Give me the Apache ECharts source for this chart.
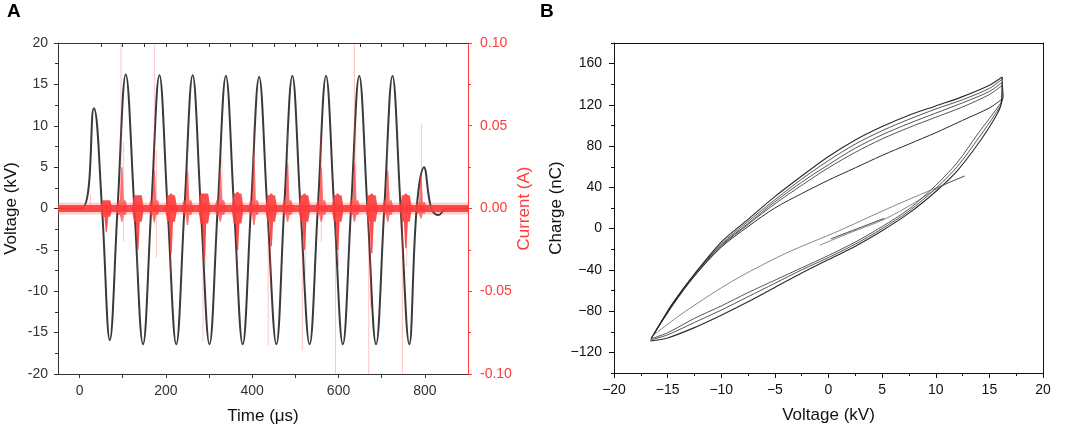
<!DOCTYPE html>
<html>
<head>
<meta charset="utf-8">
<script src="https://cdn.jsdelivr.net/npm/echarts@6/dist/echarts.min.js"></script>
<style>
html, body { margin: 0; padding: 0; background: #fff; }
#chart { width: 1065px; height: 430px; }
</style>
</head>
<body>
<div id="chart"></div>
<script>
// ---- panel A : applied voltage, key points (time us, kV)
var voltageTime = [-50, 5, 33, 52, 70, 88, 107, 127, 147, 166, 185, 204, 224, 243, 262, 281, 301, 320, 339, 358,
    378, 397, 416, 435, 456, 474, 493, 512, 533, 552, 571, 590, 610, 629, 648, 667, 687, 706, 725, 744,
    764, 781, 798, 815, 832, 850, 900];
var voltageKv = [0, 0, 12.1, 0, -15.9, 0, 16.2, 0, -16.4, 0, 16.1, 0, -16.4, 0, 16.1, 0, -16.4, 0, 16.0, 0,
    -16.4, 0, 15.9, 0, -16.4, 0, 16.0, 0, -16.4, 0, 16.0, 0, -16.4, 0, 16.0, 0, -16.4, 0, 16.0, 0,
    -16.4, 0, 5.0, 0, -0.8, 0, 0];

// current: background noise band, discharge bursts [t, min, max, blobMin, blobMax], faint spikes [t, min, max]
var noiseTime = [-50, 900];
var noiseLevel = [0, 0];
var currentBursts = [
    [62, -0.014, 0.005, -0.005, 0.005], [98, -0.008, 0.025, -0.004, 0.005],
    [135, -0.025, 0.008, -0.008, 0.008], [173, -0.008, 0.023, -0.004, 0.005],
    [212, -0.027, 0.009, -0.008, 0.008], [250, -0.010, 0.023, -0.004, 0.005],
    [289, -0.031, 0.009, -0.009, 0.009], [326, -0.008, 0.022, -0.004, 0.005],
    [366, -0.025, 0.010, -0.009, 0.009], [404, -0.010, 0.033, -0.004, 0.005],
    [444, -0.023, 0.009, -0.008, 0.008], [482, -0.008, 0.027, -0.004, 0.005],
    [521, -0.025, 0.009, -0.008, 0.008], [560, -0.008, 0.025, -0.004, 0.005],
    [598, -0.025, 0.009, -0.008, 0.008], [637, -0.008, 0.027, -0.004, 0.005],
    [677, -0.027, 0.009, -0.008, 0.008], [714, -0.008, 0.023, -0.004, 0.005],
    [756, -0.024, 0.009, -0.008, 0.008], [791, -0.006, 0.020, -0.003, 0.004]
];
var faintSpikes = [
    [25, 0, 0.009], [96, -0.005, 0.1], [174, -0.01, 0.1], [250, 0, 0.035], [286, -0.08, 0.005],
    [404, 0, 0.05], [437, -0.083, 0.005], [482, 0, 0.045], [516, -0.086, 0.005], [558, 0, 0.045],
    [593, -0.1, 0.005], [637, -0.005, 0.1], [670, -0.1, 0.005], [713, 0, 0.041], [748, -0.1, 0.005],
    [792, 0, 0.051], [134, -0.04, 0], [211, -0.04, 0], [365, -0.04, 0], [442, -0.045, 0], [674, -0.06, 0],
    [102, -0.02, 0.04], [178, -0.03, 0.035], [330, 0, 0.03], [560, -0.02, 0.04], [640, 0, 0.05],
    [291, -0.035, 0], [523, -0.04, 0], [600, -0.035, 0], [758, -0.035, 0]
];

// ---- panel B : charge vs voltage loops (kV, nC)
var upperOuter = [[16.2, 147], [15, 139], [12.5, 128], [10, 119], [7.5, 110], [5, 99], [2.5, 86], [0, 70], [-2.5, 51],
    [-5, 31], [-7.5, 9], [-10, -13], [-12.5, -44], [-14.5, -72], [-15.7, -92], [-16.5, -106]];
var upperTwo = [[16.2, 145], [15, 136], [12.5, 125], [10, 116], [7.5, 106], [5, 95], [2.5, 82], [0, 66], [-2.5, 48],
    [-5, 28], [-7.5, 7], [-10, -15], [-12.5, -44], [-14.5, -72], [-16.5, -106]];
var upperThree = [[16.2, 142], [15, 133], [12.5, 122], [10, 112], [7.5, 102], [5, 91], [2.5, 78], [0, 62], [-2.5, 45],
    [-5, 26], [-7.5, 5], [-10, -16], [-12.5, -45], [-14.5, -73], [-16.5, -106]];
var upperFour = [[16.2, 139], [15, 130], [12.5, 118], [10, 108], [7.5, 98], [5, 87], [2.5, 74], [0, 59], [-2.5, 42],
    [-5, 24], [-7.5, 4], [-10, -17], [-12.5, -46], [-14.5, -73], [-16.5, -106]];
var upperInner = [[16.1, 125], [15, 117], [12.5, 105], [10, 93], [7.5, 82], [5, 71], [2.5, 59], [0, 47], [-2.5, 34],
    [-5, 20], [-7.5, 2], [-10, -18], [-12.5, -46], [-14.5, -74], [-16.5, -106]];
var lowerOuter = [[-16.6, -109], [-15, -106], [-12.5, -96], [-10, -84], [-7.5, -71], [-5, -57], [-2.5, -43], [0, -30],
    [2.5, -17], [5, -2], [7.5, 15], [10, 36], [12, 56], [14, 83], [15.5, 107], [16.1, 121], [16.2, 147]];
var lowerTwo = [[-16.6, -108], [-15, -103], [-12.5, -91], [-10, -79], [-7.5, -66], [-5, -53], [-2.5, -40], [0, -28],
    [2.5, -15], [5, 0], [7.5, 17], [10, 39], [12, 60], [14, 88], [15.6, 112], [16.2, 125], [16.2, 142]];
var lowerThree = [[-16.6, -107], [-15, -101], [-12.5, -87], [-10, -75], [-7.5, -62], [-5, -50], [-2.5, -38], [0, -26],
    [2.5, -13], [5, 2], [7.5, 19], [10, 42], [12, 64], [14, 93], [15.8, 118], [16.3, 128], [16.2, 139]];
var firstRise = [[-0.8, -16], [2, -4], [5.2, 9], [8, 25], [10.5, 41], [12.7, 51]];
var firstFall = [[12.7, 51], [9, 35], [5, 17], [1, -2], [-4, -24], [-8.3, -47], [-11, -64], [-14, -85], [-16.4, -104]];
var firstArrow = [[5.2, 10], [0.2, -10]];

var voltageTicks = [0, 200, 400, 600, 800];
var chargeTicks = [-120, -80, -40, 0, 40, 80, 120, 160];

var RED = '#ff3a3a';
var INK = '#333';
var FONT = 'Liberation Sans, Arial, sans-serif';

var voltageData = voltageTime.map(function (t, i) { return [t, voltageKv[i]]; });
var noiseData = noiseTime.map(function (t, i) { return [t, noiseLevel[i]]; });

// one discharge burst: a noisy blob around zero with a narrow column out to the burst extremes
function renderBurst(params, api) {
    var t = api.value(0);
    var lo = api.value(1), hi = api.value(2), bLo = api.value(3), bHi = api.value(4);
    function p(dt, v) { return api.coord([t + dt, v]); }
    var falling = -lo > hi;
    return {
        type: 'polygon',
        shape: { points: [p(-14, 0), p(-9, bHi), p(-4.5, bHi), p(-1.5, hi), p(1.5, hi), p(4.5, bHi), p(9, bHi), p(14, 0),
            p(9, bLo), p(4.5, bLo), p(1.5, lo), p(-1.5, lo), p(-4.5, bLo), p(-9, bLo)] },
        style: { fill: RED, opacity: falling ? 0.9 : 0.7 }
    };
}

function renderSpike(params, api) {
    var a = api.coord([api.value(0), api.value(1)]);
    var b = api.coord([api.value(0), api.value(2)]);
    return {
        type: 'line',
        shape: { x1: a[0], y1: a[1], x2: b[0], y2: b[1] },
        style: { stroke: RED, lineWidth: 1, opacity: 0.3 }
    };
}

function minus(v) { return String(v).replace('-', '\u2212'); }

var axisText = { color: INK, fontSize: 14, fontFamily: FONT };
var nameText = { color: '#111', fontSize: 17, fontFamily: FONT };

function loop(data, width, color) {
    return {
        type: 'line', xAxisIndex: 2, yAxisIndex: 2, data: data, showSymbol: false, smooth: 0.3,
        lineStyle: { color: color || '#2a2a2a', width: width || 0.8 }, silent: true
    };
}

var chart = echarts.init(document.getElementById('chart'), null, { renderer: 'canvas' });
chart.setOption({
    animation: false,
    graphic: [
        { type: 'text', left: 7, top: 2, style: { text: 'A', font: 'bold 19px ' + FONT, fill: '#000' } },
        { type: 'text', left: 540, top: 2, style: { text: 'B', font: 'bold 19px ' + FONT, fill: '#000' } }
    ],
    grid: [
        { left: 58, top: 43, width: 410, height: 331 },
        { left: 614, top: 43, width: 429, height: 330 }
    ],
    xAxis: [
        {
            gridIndex: 0, type: 'value', min: -50, max: 900,
            name: 'Time (\u03bcs)', nameLocation: 'middle', nameGap: 34, nameTextStyle: nameText,
            axisLine: { onZero: false, lineStyle: { color: INK } },
            axisTick: { customValues: [0, 100, 200, 300, 400, 500, 600, 700, 800], length: 4, lineStyle: { color: INK } },
            axisLabel: Object.assign({ customValues: voltageTicks, margin: 10 }, axisText),
            splitLine: { show: false }
        },
        {
            gridIndex: 0, type: 'value', position: 'top', min: -50, max: 900,
            axisLine: { onZero: false, lineStyle: { color: INK } },
            axisTick: { inside: true, length: 4, lineStyle: { color: INK },
                customValues: [50, 100, 150, 200, 250, 300, 350, 400, 450, 500, 550, 600, 650, 700, 750, 800, 850] },
            axisLabel: { show: false }, splitLine: { show: false }
        },
        {
            gridIndex: 1, type: 'value', min: -20, max: 20, interval: 5,
            name: 'Voltage (kV)', nameLocation: 'middle', nameGap: 34, nameTextStyle: nameText,
            axisLine: { onZero: false, lineStyle: { color: '#111' } },
            axisTick: { length: 5, lineStyle: { color: '#111' } },
            minorTick: { show: true, splitNumber: 2, length: 3, lineStyle: { color: '#111' } },
            axisLabel: Object.assign({ formatter: minus, margin: 10 }, axisText, { color: '#111' }),
            splitLine: { show: false }
        },
        {
            gridIndex: 1, type: 'value', position: 'top', min: -20, max: 20,
            axisLine: { onZero: false, lineStyle: { color: '#111' } }, axisTick: { show: false },
            axisLabel: { show: false }, splitLine: { show: false }
        }
    ],
    yAxis: [
        {
            gridIndex: 0, type: 'value', min: -20, max: 20, interval: 5,
            name: 'Voltage (kV)', nameLocation: 'middle', nameGap: 38, nameRotate: 90, nameTextStyle: nameText,
            axisLine: { onZero: false, lineStyle: { color: INK } },
            axisTick: { length: 4, lineStyle: { color: INK } },
            minorTick: { show: true, splitNumber: 2, length: 3, lineStyle: { color: INK } },
            axisLabel: Object.assign({ margin: 10 }, axisText),
            splitLine: { show: false }
        },
        {
            gridIndex: 0, type: 'value', position: 'right', min: -0.1, max: 0.1, interval: 0.05,
            name: 'Current (A)', nameLocation: 'middle', nameGap: 46, nameRotate: 90,
            nameTextStyle: Object.assign({}, nameText, { color: RED }),
            axisLine: { onZero: false, lineStyle: { color: RED } },
            axisTick: { length: 4, lineStyle: { color: RED } },
            minorTick: { show: true, splitNumber: 2, length: 3, lineStyle: { color: RED } },
            axisLabel: Object.assign({ margin: 12 }, axisText, { color: RED,
                formatter: function (v) { return (Math.abs(v) < 1e-9 ? 0 : v).toFixed(2); } }),
            splitLine: { show: false }
        },
        {
            gridIndex: 1, type: 'value', min: -140, max: 180, interval: 20,
            name: 'Charge (nC)', nameLocation: 'middle', nameGap: 49, nameRotate: 90, nameTextStyle: nameText,
            axisLine: { onZero: false, lineStyle: { color: '#111' } },
            axisTick: { customValues: chargeTicks, length: 5, lineStyle: { color: '#111' } },
            axisLabel: Object.assign({ customValues: chargeTicks, formatter: minus, margin: 12 }, axisText, { color: '#111' }),
            splitLine: { show: false }
        },
        {
            gridIndex: 1, type: 'value', position: 'right', min: -140, max: 180,
            axisLine: { onZero: false, lineStyle: { color: '#111' } }, axisTick: { show: false },
            axisLabel: { show: false }, splitLine: { show: false }
        },
        {
            gridIndex: 1, type: 'value', position: 'left', min: -140, max: 180, interval: 20,
            axisLine: { show: false, onZero: false }, axisTick: { length: 3, lineStyle: { color: '#111' } },
            axisLabel: { show: false }, splitLine: { show: false }
        }
    ],
    series: [
        {
            type: 'line', xAxisIndex: 0, yAxisIndex: 0, data: voltageData, showSymbol: false, smooth: 0.4,
            lineStyle: { color: '#3a3a3a', width: 2 }, z: 2
        },
        {
            type: 'line', xAxisIndex: 0, yAxisIndex: 1, data: noiseData, showSymbol: false,
            lineStyle: { color: RED, width: 12, opacity: 0.25 }, z: 3
        },
        {
            type: 'line', xAxisIndex: 0, yAxisIndex: 1, data: noiseData, showSymbol: false,
            lineStyle: { color: RED, width: 7, opacity: 0.9 }, z: 3
        },
        {
            type: 'custom', xAxisIndex: 0, yAxisIndex: 1, data: faintSpikes, renderItem: renderSpike,
            encode: { x: 0, y: [1, 2] }, z: 3
        },
        {
            type: 'custom', xAxisIndex: 0, yAxisIndex: 1, data: currentBursts, renderItem: renderBurst,
            encode: { x: 0, y: [1, 2] }, z: 4
        },
        loop(upperOuter, 1.1), loop(upperTwo), loop(upperThree), loop(upperFour), loop(upperInner, 1),
        loop(lowerOuter, 1.1), loop(lowerTwo), loop(lowerThree),
        loop(firstRise, 0.7, '#555'), loop(firstFall, 0.7, '#555'), loop(firstArrow, 0.9, '#333')
    ]
});
</script>
</body>
</html>
